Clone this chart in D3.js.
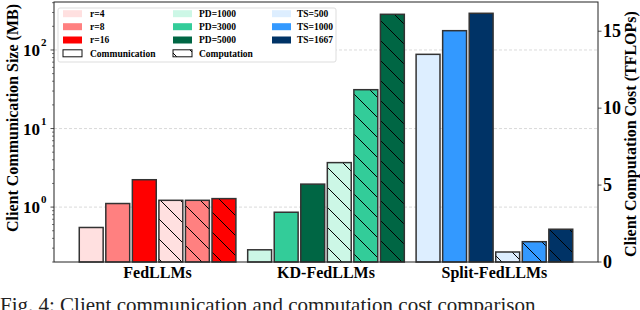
<!DOCTYPE html>
<html>
<head>
<meta charset="utf-8">
<script src="https://cdn.jsdelivr.net/npm/d3@7"></script>
<style>
  body { margin: 0; background: #fff; }
  svg { display: block; font-family: "Liberation Serif", "Times New Roman", serif; }
</style>
</head>
<body>
<div id="container"></div>
<script>
// chart data
const groups = ["FedLLMs", "KD-FedLLMs", "Split-FedLLMs"];
const seriesLabels = [["r=4", "r=8", "r=16"], ["PD=1000", "PD=3000", "PD=5000"], ["TS=500", "TS=1000", "TS=1667"]];
const seriesColors = [["#ffe0e0", "#ff8080", "#ff0000"], ["#ccf7e6", "#33cc99", "#006644"], ["#ddeeff", "#3399ff", "#003366"]];
const commMB = [[0.55, 1.11, 2.23], [0.286, 0.86, 1.96], [88, 176, 293]];
const compTFLOPs = [[4.01, 4.01, 4.12], [6.46, 11.2, 16.1], [0.65, 1.32, 2.13]];
const leftTicks = [1, 10, 100];
const rightTicks = [0, 5, 10, 15];

const width = 640, height = 310;
const margin = { top: 2, right: 42, bottom: 48, left: 54 };

const svg = d3.select("#container").append("svg")
    .attr("width", width)
    .attr("height", height);

// hatch pattern, anchored to the page like matplotlib hatches
svg.append("defs").append("pattern")
    .attr("id", "hatch")
    .attr("patternUnits", "userSpaceOnUse")
    .attr("width", 20).attr("height", 20)
    .selectAll("path")
    .data(["M0,0 L20,20", "M-10,10 L10,30", "M10,-10 L30,10"])
    .join("path")
    .attr("d", d => d)
    .attr("stroke", "#000")
    .attr("stroke-width", 1);

let x0 = d3.scaleBand()
    .domain(groups)
    .range([margin.left, width - margin.right])
    .paddingInner(0.07)
    .paddingOuter(0.15);

let x1 = d3.scaleBand()
    .domain(d3.range(6))
    .range([0, x0.bandwidth()])
    .paddingInner(0.1);

let yL = d3.scaleLog()
    .domain([0.2, 408])
    .range([height - margin.bottom, margin.top]);

let yR = d3.scaleLinear()
    .domain([0, 16.9])
    .range([height - margin.bottom, margin.top]);

const bottom = height - margin.bottom;

// grid
svg.append("g")
    .selectAll("line")
    .data(leftTicks)
    .join("line")
    .attr("x1", margin.left).attr("x2", width - margin.right)
    .attr("y1", d => yL(d)).attr("y2", d => yL(d))
    .attr("stroke", "#d0d0d0")
    .attr("stroke-width", 0.8)
    .attr("stroke-dasharray", "3,2");

// bars
const bars = [];
groups.forEach((g, gi) => {
    for (let s = 0; s < 3; s++) {
        bars.push({ g: g, slot: s, color: seriesColors[gi][s], top: yL(commMB[gi][s]), hatch: false });
    }
    for (let s = 0; s < 3; s++) {
        bars.push({ g: g, slot: s + 3, color: seriesColors[gi][s], top: yR(compTFLOPs[gi][s]), hatch: true });
    }
});

let barG = svg.append("g");
barG.selectAll(".bar-fill")
    .data(bars)
    .join("rect")
    .attr("class", "bar-fill")
    .attr("x", d => x0(d.g) + x1(d.slot))
    .attr("y", d => d.top)
    .attr("width", x1.bandwidth())
    .attr("height", d => bottom - d.top)
    .attr("fill", d => d.color);

barG.selectAll(".bar-hatch")
    .data(bars.filter(d => d.hatch))
    .join("rect")
    .attr("class", "bar-hatch")
    .attr("x", d => x0(d.g) + x1(d.slot))
    .attr("y", d => d.top)
    .attr("width", x1.bandwidth())
    .attr("height", d => bottom - d.top)
    .attr("fill", "url(#hatch)");

barG.selectAll(".bar-edge")
    .data(bars)
    .join("rect")
    .attr("class", "bar-edge")
    .attr("x", d => x0(d.g) + x1(d.slot))
    .attr("y", d => d.top)
    .attr("width", x1.bandwidth())
    .attr("height", d => bottom - d.top)
    .attr("fill", "none")
    .attr("stroke", "#333")
    .attr("stroke-width", 1.5);

// frame
svg.append("rect")
    .attr("x", margin.left).attr("y", margin.top)
    .attr("width", width - margin.left - margin.right)
    .attr("height", height - margin.top - margin.bottom)
    .attr("fill", "none")
    .attr("stroke", "#222")
    .attr("stroke-width", 1);

// left axis (log)
let minor = [];
[0.1, 1, 10, 100].forEach(dec => {
    for (let k = 2; k <= 9; k++) {
        let v = dec * k;
        if (v >= yL.domain()[0] && v <= yL.domain()[1]) minor.push(v);
    }
});
svg.append("g").selectAll("line")
    .data(minor)
    .join("line")
    .attr("x1", margin.left - 2).attr("x2", margin.left)
    .attr("y1", d => yL(d)).attr("y2", d => yL(d))
    .attr("stroke", "#222").attr("stroke-width", 0.6);
svg.append("g").selectAll("line")
    .data(leftTicks)
    .join("line")
    .attr("x1", margin.left - 3.5).attr("x2", margin.left)
    .attr("y1", d => yL(d)).attr("y2", d => yL(d))
    .attr("stroke", "#222").attr("stroke-width", 0.8);

let lt = svg.append("g").selectAll("text")
    .data(leftTicks)
    .join("text")
    .attr("x", 40)
    .attr("y", d => yL(d) + 6)
    .attr("text-anchor", "end")
    .attr("font-size", 17)
    .attr("font-weight", "bold")
    .text("10");
svg.append("g").selectAll("text")
    .data(leftTicks)
    .join("text")
    .attr("x", 41)
    .attr("y", d => yL(d) - 4)
    .attr("font-size", 11)
    .attr("font-weight", "bold")
    .text(d => Math.round(Math.log10(d)));

// right axis (linear)
const rx = width - margin.right;
svg.append("g").selectAll("line")
    .data(rightTicks)
    .join("line")
    .attr("x1", rx).attr("x2", rx + 3.5)
    .attr("y1", d => yR(d)).attr("y2", d => yR(d))
    .attr("stroke", "#222").attr("stroke-width", 0.8);
svg.append("g").selectAll("text")
    .data(rightTicks)
    .join("text")
    .attr("x", rx + 5)
    .attr("y", d => yR(d) + 6)
    .attr("font-size", 18)
    .attr("font-weight", "bold")
    .text(d => d);

// axis titles
svg.append("text")
    .attr("transform", "translate(18,118) rotate(-90)")
    .attr("text-anchor", "middle")
    .attr("font-size", 16)
    .attr("font-weight", "bold")
    .text("Client Communication Size (MB)");
svg.append("text")
    .attr("transform", "translate(636,134) rotate(-90)")
    .attr("text-anchor", "middle")
    .attr("font-size", 16)
    .attr("font-weight", "bold")
    .text("Client Computation Cost (TFLOPs)");

// group labels
svg.append("g").selectAll("text")
    .data(groups)
    .join("text")
    .attr("x", d => x0(d) + x0.bandwidth() / 2)
    .attr("y", 278)
    .attr("text-anchor", "middle")
    .attr("font-size", 16)
    .attr("font-weight", "bold")
    .text(d => d);

// legend
let legend = svg.append("g");
legend.append("rect")
    .attr("x", 58).attr("y", 8)
    .attr("width", 278).attr("height", 54)
    .attr("rx", 2)
    .attr("fill", "#fff")
    .attr("stroke", "#ddd")
    .attr("stroke-width", 1);

const colX = [63, 173, 272];
const textX = [90, 199, 297];
const rowY = [13.7, 26.7, 40, 53.3];
seriesLabels.forEach((labels, ci) => {
    labels.forEach((lab, ri) => {
        legend.append("rect")
            .attr("x", colX[ci]).attr("y", rowY[ri] - 3.5)
            .attr("width", 19).attr("height", 7)
            .attr("fill", seriesColors[ci][ri]);
        legend.append("text")
            .attr("x", textX[ci]).attr("y", rowY[ri] + 3.3)
            .attr("font-size", 9.5)
            .attr("font-weight", "bold")
            .text(lab);
    });
});
["Communication", "Computation"].forEach((lab, i) => {
    legend.append("rect")
        .attr("x", colX[i]).attr("y", rowY[3] - 3.5)
        .attr("width", 19).attr("height", 7)
        .attr("fill", i ? "url(#hatch)" : "#fff");
    legend.append("rect")
        .attr("x", colX[i]).attr("y", rowY[3] - 3.5)
        .attr("width", 19).attr("height", 7)
        .attr("fill", "none")
        .attr("stroke", "#111")
        .attr("stroke-width", 1);
    legend.append("text")
        .attr("x", textX[i]).attr("y", rowY[3] + 3.3)
        .attr("font-size", 9.5)
        .attr("font-weight", "bold")
        .text(lab);
});

// caption cut off at the bottom of the picture
svg.append("text")
    .attr("x", 0)
    .attr("y", 312)
    .attr("font-size", 21)
    .attr("fill", "#222")
    .text("Fig. 4: Client communication and computation cost comparison");
</script>
</body>
</html>
